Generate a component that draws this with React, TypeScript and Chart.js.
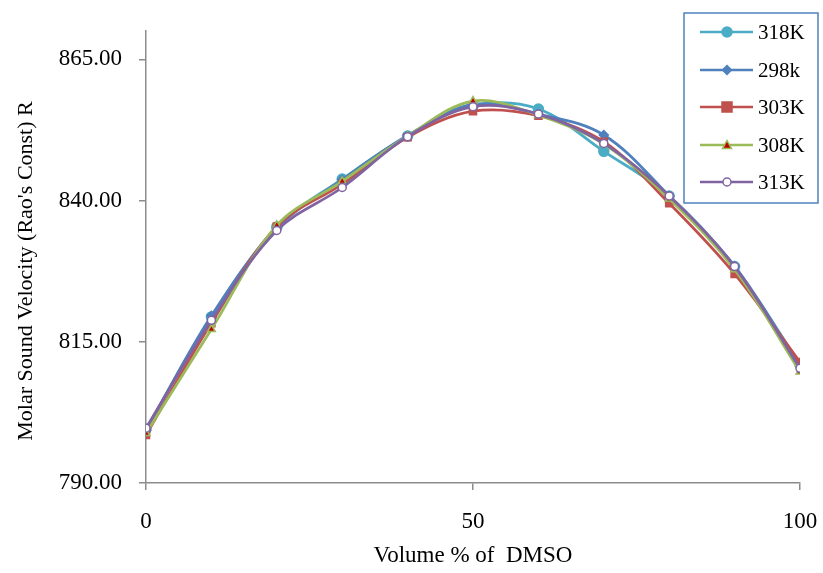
import React, { useEffect, useRef } from "react";
import { Chart, registerables } from "chart.js";

Chart.register(...registerables);

const xValues = [0, 10, 20, 30, 40, 50, 60, 70, 80, 90, 100];
const seriesNames = ["318K", "298k", "303K", "308K", "313K"];
const s318 = [799.5, 819.4, 835.3, 843.8, 851.4, 856.8, 856.2, 848.7, 840.8, 828.3, 811.0];
const s298 = [799.3, 819.6, 835.1, 843.7, 851.5, 857.0, 855.3, 851.6, 840.8, 828.4, 810.6];
const s303 = [798.5, 818.3, 835.4, 842.9, 851.2, 855.8, 855.0, 850.4, 839.5, 827.0, 811.4];
const s308 = [798.8, 817.2, 835.6, 843.4, 851.4, 857.6, 855.1, 850.0, 840.3, 827.8, 809.7];
const s313 = [799.7, 818.8, 834.7, 842.3, 851.3, 856.6, 855.3, 850.1, 840.8, 828.3, 810.3];
const yTicks = [790, 815, 840, 865];
const xTicks = [0, 50, 100];
const yTitle = "Molar Sound Velocity (Rao's Const) R";
const xTitle = "Volume % of  DMSO";

const FONT = "'Liberation Serif', 'Times New Roman', serif";

type Style = { line: string; fill: string; border: string; shape: string; r: number };
const styles: Style[] = [
  { line: "#4BACC6", fill: "#4BACC6", border: "#4BACC6", shape: "circle", r: 5 },
  { line: "#4F81BD", fill: "#4F81BD", border: "#4F81BD", shape: "rectRot", r: 4.5 },
  { line: "#C0504D", fill: "#C0504D", border: "#C0504D", shape: "rect", r: 5 },
  { line: "#9BBB59", fill: "#C00000", border: "#9BBB59", shape: "triangle", r: 4.5 },
  { line: "#8064A2", fill: "#FFFFFF", border: "#8064A2", shape: "circle", r: 4 },
];

function drawMarker(ctx: CanvasRenderingContext2D, s: Style, x: number, y: number) {
  ctx.save();
  ctx.fillStyle = s.fill;
  ctx.strokeStyle = s.border;
  ctx.lineWidth = 1.5;
  ctx.beginPath();
  const r = s.r;
  if (s.shape === "circle") {
    ctx.arc(x, y, r, 0, Math.PI * 2);
  } else if (s.shape === "rectRot") {
    ctx.moveTo(x, y - r);
    ctx.lineTo(x + r, y);
    ctx.lineTo(x, y + r);
    ctx.lineTo(x - r, y);
    ctx.closePath();
  } else if (s.shape === "rect") {
    ctx.rect(x - r, y - r, 2 * r, 2 * r);
  } else if (s.shape === "triangle") {
    ctx.moveTo(x, y - r);
    ctx.lineTo(x + r, y + r * 0.8);
    ctx.lineTo(x - r, y + r * 0.8);
    ctx.closePath();
  }
  ctx.fill();
  ctx.stroke();
  ctx.restore();
}

const legendPlugin = {
  id: "customLegend",
  afterDraw(chart: any) {
    const ctx: CanvasRenderingContext2D = chart.ctx;
    ctx.save();
    // y-axis title
    ctx.translate(26, 271);
    ctx.rotate(-Math.PI / 2);
    ctx.fillStyle = "#000";
    ctx.font = `22px ${FONT}`;
    ctx.textAlign = "center";
    ctx.textBaseline = "middle";
    ctx.fillText(yTitle, 0, 0);
    ctx.restore();

    ctx.save();
    ctx.strokeStyle = "#4F81BD";
    ctx.lineWidth = 1.5;
    ctx.fillStyle = "#FFFFFF";
    ctx.fillRect(684, 13, 134, 190);
    ctx.strokeRect(684, 13, 134, 190);
    const rows = [32, 70, 107, 145, 182];
    seriesNames.forEach((name, i) => {
      const s = styles[i];
      const y = rows[i];
      ctx.strokeStyle = s.line;
      ctx.lineWidth = 2.5;
      ctx.beginPath();
      ctx.moveTo(700, y);
      ctx.lineTo(753, y);
      ctx.stroke();
      drawMarker(ctx, s, 727, y);
      ctx.fillStyle = "#000";
      ctx.font = `21px ${FONT}`;
      ctx.textBaseline = "middle";
      ctx.textAlign = "left";
      ctx.fillText(name, 758, y + 1);
    });
    ctx.restore();
  },
};

export default function App() {
  const ref = useRef<HTMLCanvasElement | null>(null);
  useEffect(() => {
    if (!ref.current) return;
    const all = [s318, s298, s303, s308, s313];
    const chart = new Chart(ref.current, {
      type: "line",
      data: {
        datasets: all.map((vals, i) => ({
          label: seriesNames[i],
          data: vals.map((v, j) => ({ x: xValues[j], y: v })),
          borderColor: styles[i].line,
          backgroundColor: styles[i].fill,
          pointBackgroundColor: styles[i].fill,
          pointBorderColor: styles[i].border,
          pointBorderWidth: 1.5,
          pointStyle: styles[i].shape as any,
          pointRadius: styles[i].r,
          borderWidth: 2.75,
          tension: 0.35,
          fill: false,
          order: 4 - i,
        })),
      },
      options: {
        responsive: false,
        animation: false,
        layout: { padding: { top: 31, right: 23, left: 0, bottom: 0 } },
        plugins: { legend: { display: false }, tooltip: { enabled: false } },
        scales: {
          x: {
            type: "linear",
            min: 0,
            max: 100,
            afterBuildTicks: (s: any) => {
              s.ticks = xTicks.map((v) => ({ value: v }));
            },
            afterFit: (s: any) => {
              s.height = 90;
              s.paddingLeft = 0;
              s.paddingRight = 0;
            },
            grid: { drawOnChartArea: false, drawTicks: true, tickLength: 7, color: "#8C8C8C", lineWidth: 1.5 },
            border: { color: "#8C8C8C", width: 1.5 },
            ticks: { color: "#000", font: { family: FONT, size: 23 }, padding: 18, maxRotation: 0 },
            title: {
              display: true,
              text: xTitle,
              color: "#000",
              font: { family: FONT, size: 23 },
              padding: { top: 0, bottom: 3 },
            },
          },
          y: {
            type: "linear",
            min: 790,
            max: 870,
            afterBuildTicks: (s: any) => {
              s.ticks = yTicks.map((v) => ({ value: v }));
            },
            afterFit: (s: any) => {
              s.width = 146;
              s.paddingTop = 0;
              s.paddingBottom = 0;
            },
            grid: { drawOnChartArea: false, drawTicks: true, tickLength: 7, color: "#8C8C8C", lineWidth: 1.5 },
            border: { color: "#8C8C8C", width: 1.5 },
            ticks: {
              color: "#000",
              font: { family: FONT, size: 23 },
              padding: 17,
              callback: (v: any) => Number(v).toFixed(2),
            },
            title: { display: false },
          },
        },
      },
      plugins: [legendPlugin],
    });
    return () => chart.destroy();
  }, []);
  return (
    <div style={{ position: "fixed", left: 0, top: 0, width: 823, height: 573, background: "#fff" }}>
      <canvas ref={ref} width={823} height={573} />
    </div>
  );
}
